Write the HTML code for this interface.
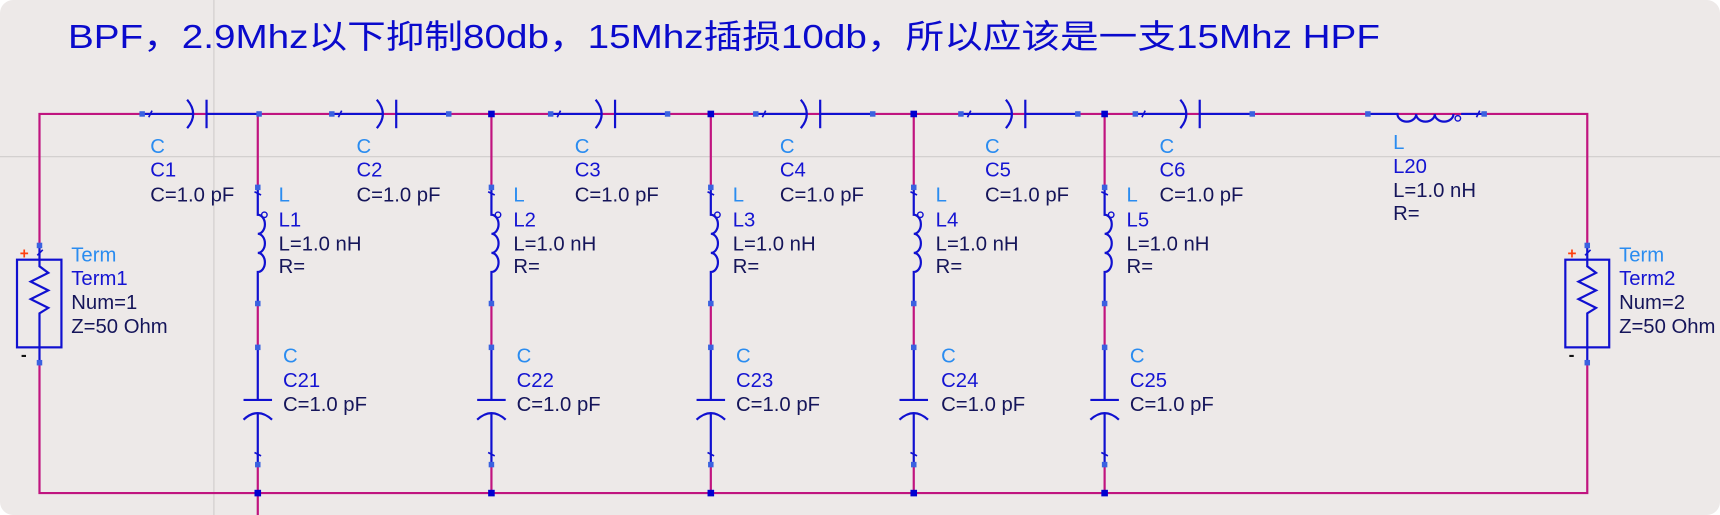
<!DOCTYPE html>
<html><head><meta charset="utf-8"><style>
html,body{margin:0;padding:0;background:#fff;}
svg{display:block}
text{font-family:"Liberation Sans","Noto Sans CJK SC",sans-serif;}
.t{fill:#2a8cf0;font-size:18.5px}
.n{fill:#1414d2;font-size:18.5px}
.v{fill:#15155a;font-size:18.5px}
</style></head><body>
<svg width="1720" height="515" viewBox="0 0 1568 470" preserveAspectRatio="none" xmlns="http://www.w3.org/2000/svg">
<defs>
<g id="sc">
<path d="M0,0H46.5M58.7,0H106.6" stroke="#1010d0" stroke-width="2" fill="none"/>
<path d="M41,-13Q52,0 41,13" stroke="#1010d0" stroke-width="2" fill="none"/>
<path d="M58.7,-13V13" stroke="#1010d0" stroke-width="2"/>
<path d="M6,3L9,-3" stroke="#1010d0" stroke-width="1.5"/>
<rect x="-2.5" y="-2.5" width="5" height="5" fill="#3a62e0"/>
<rect x="104.1" y="-2.5" width="5" height="5" fill="#3a62e0"/>
</g>
<g id="sl">
<path d="M0,0V25 A6.5,8.7 0 0 1 0,42.4 A6.5,8.7 0 0 1 0,59.8 A6.5,8.7 0 0 1 0,77.2 V106" stroke="#1010d0" stroke-width="2" fill="none"/>
<circle cx="6" cy="25" r="2.5" stroke="#1010d0" stroke-width="1.3" fill="none"/>
<path d="M-3,4L3,7" stroke="#1010d0" stroke-width="1.5"/>
<rect x="-2.5" y="-2.5" width="5" height="5" fill="#3a62e0"/>
<rect x="-2.5" y="103.5" width="5" height="5" fill="#3a62e0"/>
</g>
<g id="cc">
<path d="M0,0V48M0,60V107" stroke="#1010d0" stroke-width="2" fill="none"/>
<path d="M-13,48H13" stroke="#1010d0" stroke-width="2"/>
<path d="M-13,66Q0,54 13,66" stroke="#1010d0" stroke-width="2" fill="none"/>
<path d="M-3,96L3,99" stroke="#1010d0" stroke-width="1.5"/>
<rect x="-2.5" y="-2.5" width="5" height="5" fill="#3a62e0"/>
<rect x="-2.5" y="104.5" width="5" height="5" fill="#3a62e0"/>
</g>
</defs>
<rect x="0" y="0" width="1568" height="470" rx="12" fill="#ede9e8"/>
<path d="M195,0V470M0,143H1568" stroke="#cfcccb" stroke-width="1"/>
<text x="62" y="44" font-size="30" fill="#0a0acc" textLength="1196" lengthAdjust="spacingAndGlyphs">BPF，2.9Mhz以下抑制80db，15Mhz插损10db，所以应该是一支15Mhz HPF</text>

<g stroke="#c0147f" stroke-width="2" fill="none">
<path d="M36,224V104H1447V224"/>
<path d="M36,331V450H1447V331"/>
<path d="M235,104V171M235,277V317M235,424V470"/>
<path d="M448,104V171M448,277V317M448,424V450"/>
<path d="M648,104V171M648,277V317M648,424V450"/>
<path d="M833,104V171M833,277V317M833,424V450"/>
<path d="M1007,104V171M1007,277V317M1007,424V450"/>
</g>

<use href="#sc" x="129.6" y="104"/>
<use href="#sc" x="302.5" y="104"/>
<use href="#sc" x="502" y="104"/>
<use href="#sc" x="689" y="104"/>
<use href="#sc" x="876" y="104"/>
<use href="#sc" x="1035" y="104"/>
<use href="#sl" x="235" y="171"/><use href="#cc" x="235" y="317"/>
<use href="#sl" x="448" y="171"/><use href="#cc" x="448" y="317"/>
<use href="#sl" x="648" y="171"/><use href="#cc" x="648" y="317"/>
<use href="#sl" x="833" y="171"/><use href="#cc" x="833" y="317"/>
<use href="#sl" x="1007" y="171"/><use href="#cc" x="1007" y="317"/>

<path d="M1247,104H1274 A8.5,7 0 0 0 1291,104 A8.5,7 0 0 0 1308,104 A8.5,7 0 0 0 1325,104 M1332,104H1353" stroke="#1010d0" stroke-width="2" fill="none"/>
<circle cx="1329" cy="108" r="2.5" stroke="#1010d0" stroke-width="1.3" fill="none"/>
<path d="M1346,107L1349,101" stroke="#1010d0" stroke-width="1.5"/>
<rect x="1244.5" y="101.5" width="5" height="5" fill="#3a62e0"/>
<rect x="1350.5" y="101.5" width="5" height="5" fill="#3a62e0"/>

<g fill="#0000d0">
<rect x="445" y="101" width="6" height="6"/><rect x="645" y="101" width="6" height="6"/>
<rect x="830" y="101" width="6" height="6"/><rect x="1004" y="101" width="6" height="6"/>
<rect x="232" y="447" width="6" height="6"/><rect x="445" y="447" width="6" height="6"/>
<rect x="645" y="447" width="6" height="6"/><rect x="830" y="447" width="6" height="6"/>
<rect x="1004" y="447" width="6" height="6"/>
</g>

<g stroke="#1010d0" stroke-width="2" fill="none">
<path d="M36,224V243L44,249L28,257L44,265L28,273L44,281L36,286V331"/>
<rect x="15.5" y="237" width="40.5" height="80"/>
<path d="M1447,224V243L1455,249L1439,257L1455,265L1439,273L1455,281L1447,286V331"/>
<rect x="1427" y="237" width="40" height="80"/>
<path d="M34,233L39,228M1445,233L1450,228" stroke-width="1.5"/>
</g>
<rect x="33.5" y="221.5" width="5" height="5" fill="#3a62e0"/><rect x="33.5" y="328.5" width="5" height="5" fill="#3a62e0"/>
<rect x="1444.5" y="221.5" width="5" height="5" fill="#3a62e0"/><rect x="1444.5" y="328.5" width="5" height="5" fill="#3a62e0"/>
<text x="18" y="236" font-size="14" font-weight="bold" fill="#ff4010">+</text>
<text x="19" y="329" font-size="16" font-weight="bold" fill="#111">-</text>
<text x="1429" y="236" font-size="14" font-weight="bold" fill="#ff4010">+</text>
<text x="1430" y="329" font-size="16" font-weight="bold" fill="#111">-</text>

<text class="t" x="65" y="238.5">Term</text><text class="n" x="65" y="260">Term1</text><text class="v" x="65" y="282">Num=1</text><text class="v" x="65" y="304">Z=50 Ohm</text>
<text class="t" x="1476" y="238.5">Term</text><text class="n" x="1476" y="260">Term2</text><text class="v" x="1476" y="282">Num=2</text><text class="v" x="1476" y="304">Z=50 Ohm</text>

<text class="t" x="137" y="139.5">C</text><text class="n" x="137" y="161">C1</text><text class="v" x="137" y="184">C=1.0 pF</text>
<text class="t" x="325" y="139.5">C</text><text class="n" x="325" y="161">C2</text><text class="v" x="325" y="184">C=1.0 pF</text>
<text class="t" x="524" y="139.5">C</text><text class="n" x="524" y="161">C3</text><text class="v" x="524" y="184">C=1.0 pF</text>
<text class="t" x="711" y="139.5">C</text><text class="n" x="711" y="161">C4</text><text class="v" x="711" y="184">C=1.0 pF</text>
<text class="t" x="898" y="139.5">C</text><text class="n" x="898" y="161">C5</text><text class="v" x="898" y="184">C=1.0 pF</text>
<text class="t" x="1057" y="139.5">C</text><text class="n" x="1057" y="161">C6</text><text class="v" x="1057" y="184">C=1.0 pF</text>
<text class="t" x="1270" y="136">L</text><text class="n" x="1270" y="158">L20</text><text class="v" x="1270" y="180">L=1.0 nH</text><text class="v" x="1270" y="201">R=</text>

<g>
<text class="t" x="254" y="184">L</text><text class="n" x="254" y="206.5">L1</text><text class="v" x="254" y="228.5">L=1.0 nH</text><text class="v" x="254" y="249">R=</text>
<text class="t" x="258" y="331">C</text><text class="n" x="258" y="353">C21</text><text class="v" x="258" y="375">C=1.0 pF</text>
<text class="t" x="468" y="184">L</text><text class="n" x="468" y="206.5">L2</text><text class="v" x="468" y="228.5">L=1.0 nH</text><text class="v" x="468" y="249">R=</text>
<text class="t" x="471" y="331">C</text><text class="n" x="471" y="353">C22</text><text class="v" x="471" y="375">C=1.0 pF</text>
<text class="t" x="668" y="184">L</text><text class="n" x="668" y="206.5">L3</text><text class="v" x="668" y="228.5">L=1.0 nH</text><text class="v" x="668" y="249">R=</text>
<text class="t" x="671" y="331">C</text><text class="n" x="671" y="353">C23</text><text class="v" x="671" y="375">C=1.0 pF</text>
<text class="t" x="853" y="184">L</text><text class="n" x="853" y="206.5">L4</text><text class="v" x="853" y="228.5">L=1.0 nH</text><text class="v" x="853" y="249">R=</text>
<text class="t" x="858" y="331">C</text><text class="n" x="858" y="353">C24</text><text class="v" x="858" y="375">C=1.0 pF</text>
<text class="t" x="1027" y="184">L</text><text class="n" x="1027" y="206.5">L5</text><text class="v" x="1027" y="228.5">L=1.0 nH</text><text class="v" x="1027" y="249">R=</text>
<text class="t" x="1030" y="331">C</text><text class="n" x="1030" y="353">C25</text><text class="v" x="1030" y="375">C=1.0 pF</text>
</g>
</svg>
</body></html>
